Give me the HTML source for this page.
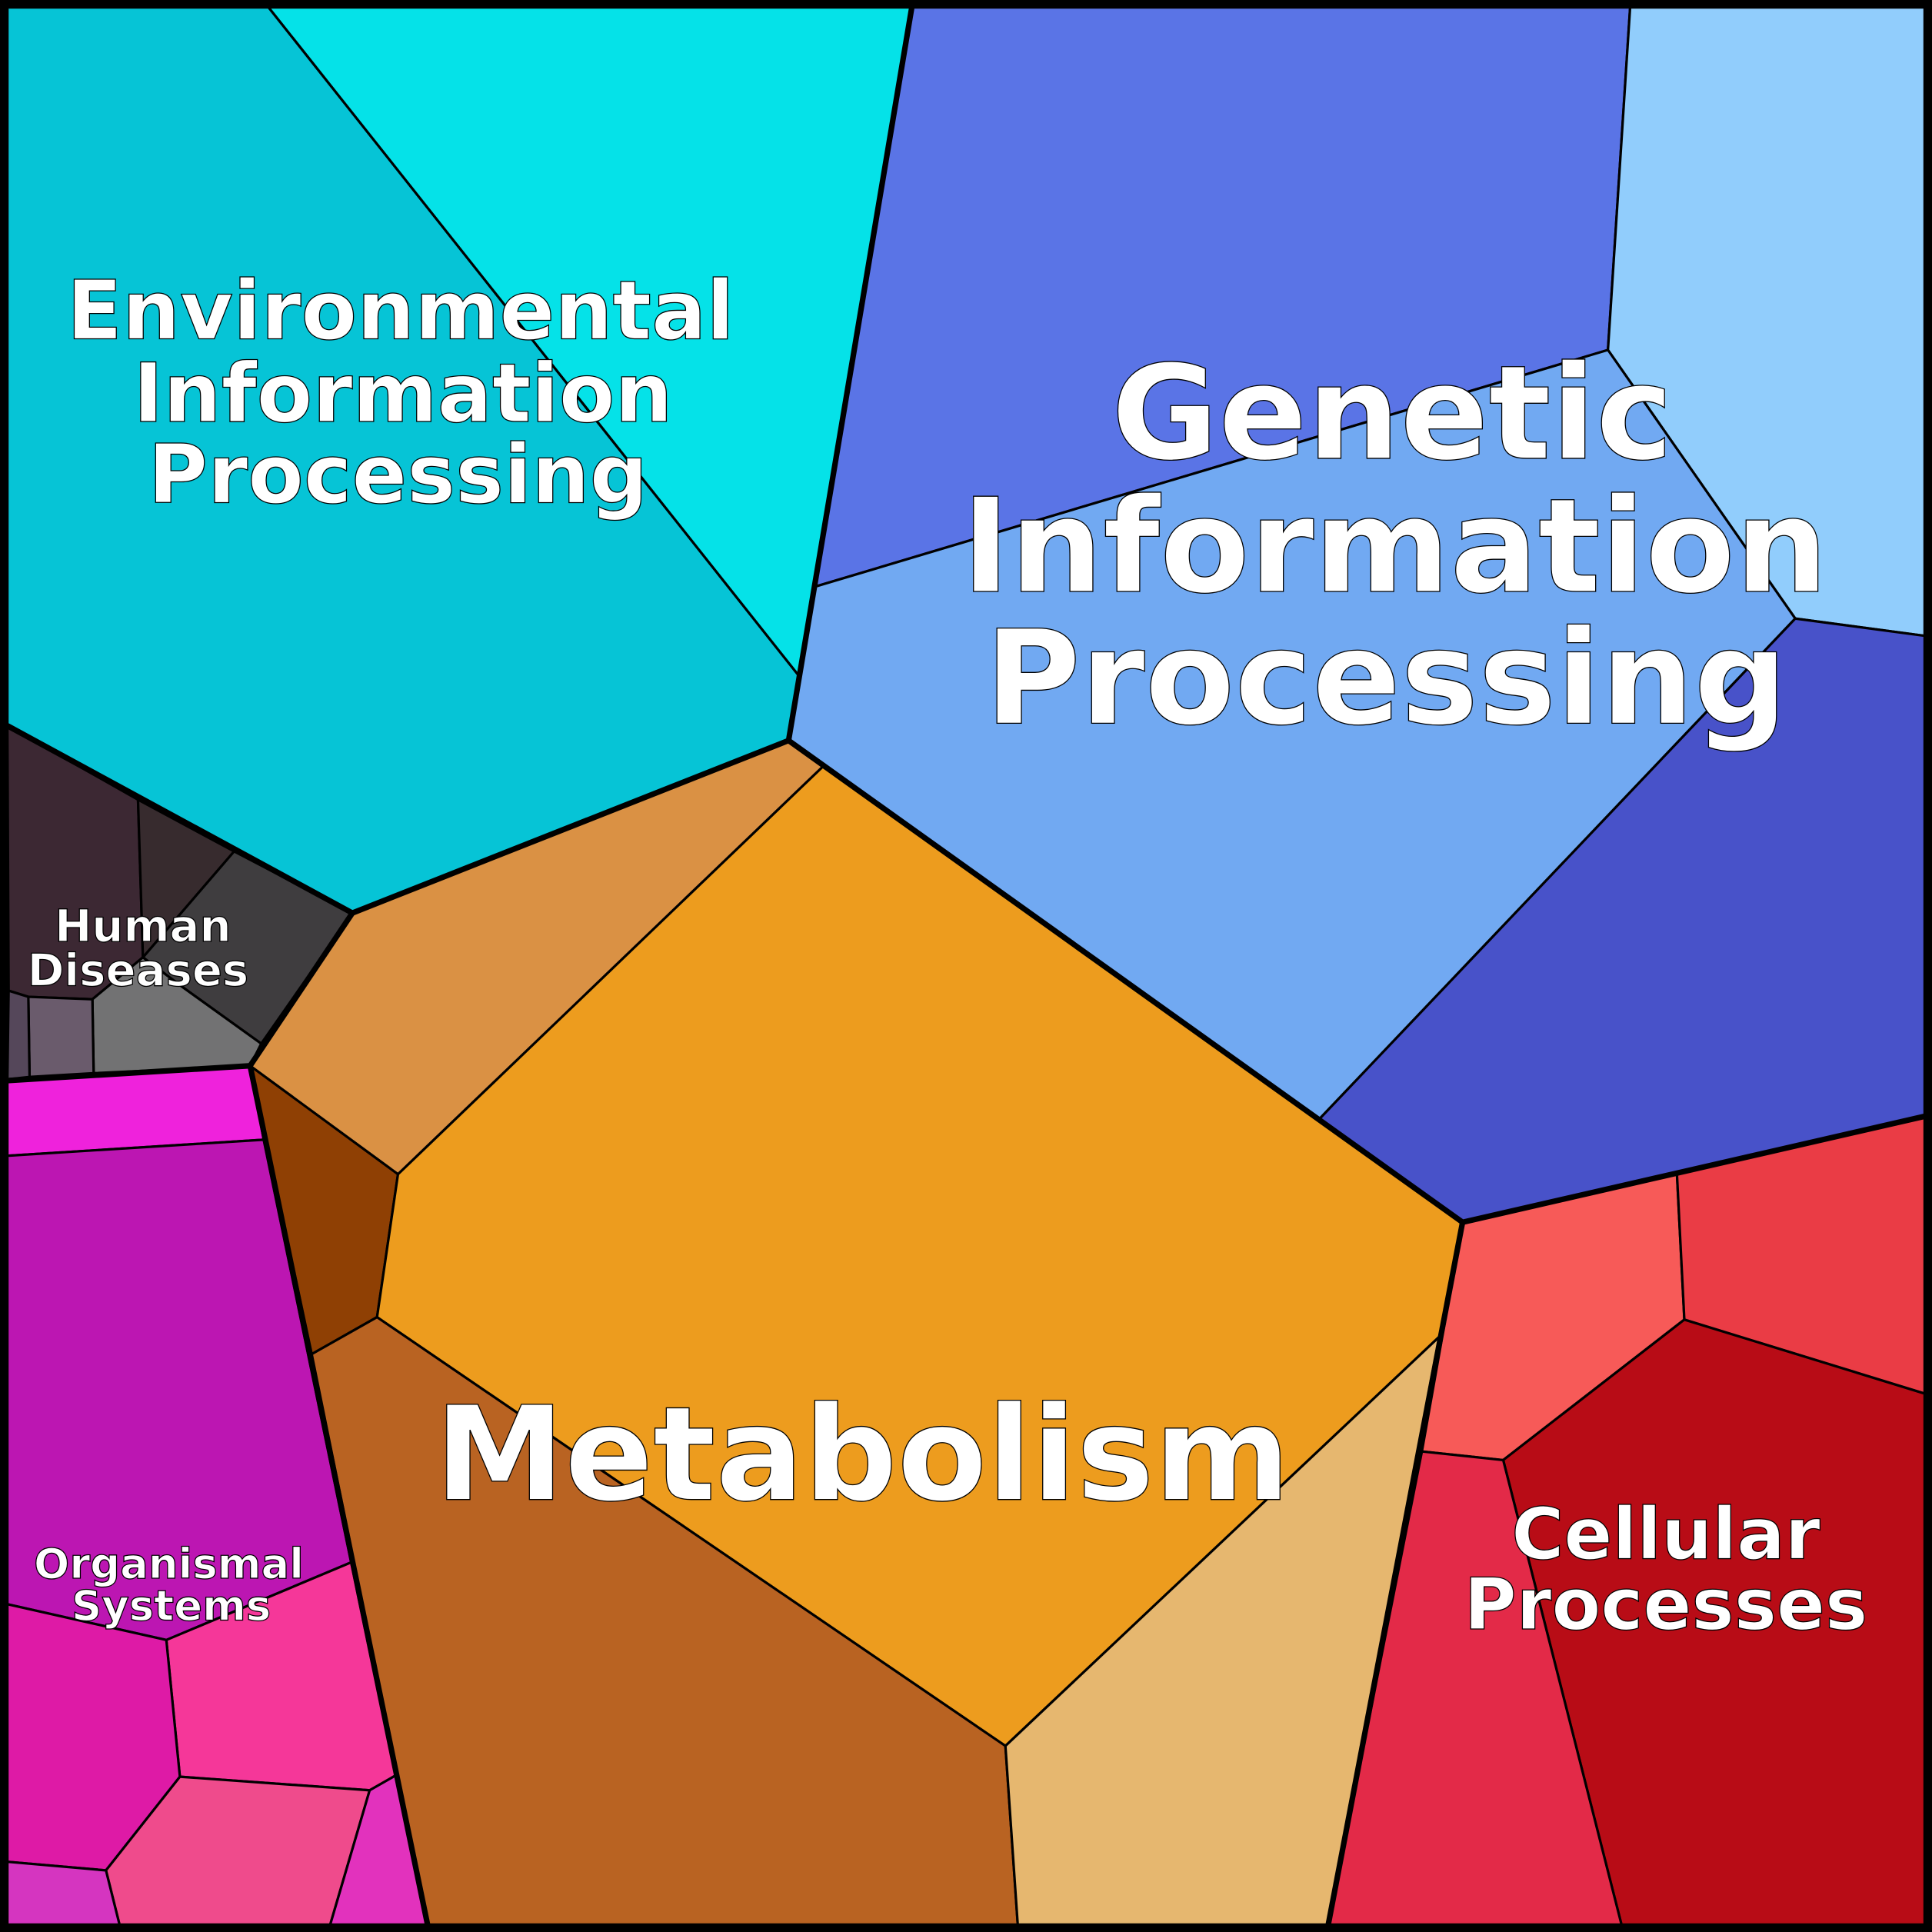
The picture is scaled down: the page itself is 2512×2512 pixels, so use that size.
<!DOCTYPE html>
<html><head><style>html,body{margin:0;padding:0;background:#000}svg{display:block}</style></head><body>
<svg xmlns="http://www.w3.org/2000/svg" width="2512" height="2512" viewBox="0 0 1568 1568">
<g stroke="#000" stroke-width="2" stroke-linejoin="round">
<polygon fill="#06c4d6" points="6,6 218,6 648,548 640,601 286,741 6,589"/>
<polygon fill="#05e2e8" points="218,6 740,6 648,548"/>
<polygon fill="#5a74e6" points="740,6 1323,6 1305,284 662,476"/>
<polygon fill="#91cdfc" points="1323,6 1562,6 1562,516 1457,502 1305,284"/>
<polygon fill="#71a9f2" points="662,476 1305,284 1457,502 1071,908 668,622 640,601"/>
<polygon fill="#4852c9" points="1457,502 1562,516 1562,906 1187,992 1071,908"/>
<polygon fill="#da9144" points="640,601 668,622 323,953 203,865 286,741"/>
<polygon fill="#8f4004" points="203,865 323,953 306,1069 253,1099"/>
<polygon fill="#ed9c1e" points="668,622 1187,992 1168,1085 816,1417 306,1069 323,953"/>
<polygon fill="#b96322" points="253,1099 306,1069 816,1417 826,1562 347,1562"/>
<polygon fill="#e6b76f" points="816,1417 1168,1085 1078,1562 826,1562"/>
<polygon fill="#f75a58" points="1187,992 1361,953 1367,1071 1220,1185 1154,1178"/>
<polygon fill="#ea3c45" points="1361,953 1562,906 1562,1131 1367,1071"/>
<polygon fill="#b80c16" points="1367,1071 1562,1131 1562,1562 1316,1562 1220,1185"/>
<polygon fill="#e32a48" points="1154,1178 1220,1185 1316,1562 1078,1562"/>
<polygon fill="#3c2833" points="6,589 112,649 116,777 75,811 23,809 7,804"/>
<polygon fill="#372b2e" points="112,649 190,691 116,777"/>
<polygon fill="#3f3d3f" points="190,691 286,741 212,847 148,801 116,777"/>
<polygon fill="#727273" points="75,811 116,777 148,801 212,847 203,865 76,871"/>
<polygon fill="#6a5b6c" points="23,809 75,811 76,871 24,874"/>
<polygon fill="#55475a" points="7,804 23,809 24,874 6,876"/>
<polygon fill="#ef22dc" points="6,877 203,865 214,925 6,938"/>
<polygon fill="#bc16b2" points="6,938 214,925 285,1268 135,1331 6,1302"/>
<polygon fill="#f53799" points="135,1331 285,1268 321,1441 300,1453 146,1442"/>
<polygon fill="#de1aa6" points="6,1302 135,1331 146,1442 86,1518 6,1511"/>
<polygon fill="#ef4b8c" points="146,1442 300,1453 268,1562 97,1562 86,1518"/>
<polygon fill="#e232bd" points="300,1453 321,1441 347,1562 268,1562"/>
<polygon fill="#d535c0" points="6,1511 86,1518 97,1562 6,1562"/>
</g>
<g stroke="#000" stroke-width="4.5" fill="none" stroke-linejoin="round">
<polyline points="6,589 286,741 640,601 740,6"/>
<polyline points="640,601 1187,992 1562,906"/>
<polyline points="1187,992 1078,1562"/>
<polyline points="286,741 203,865 347,1562"/>
<polyline points="6,877 203,865"/>
<rect x="3.5" y="3.5" width="1561" height="1561"/>
</g>
<g font-family="'DejaVu Sans','Liberation Sans',sans-serif" font-weight="bold" fill="#fff" stroke="#000" stroke-width="0.8" text-anchor="middle">
<text font-size="66" x="325" y="275">Environmental</text>
<text font-size="66" x="327" y="342">Information</text>
<text font-size="66" x="323" y="408">Processing</text>
<text font-size="106" x="1130" y="372">Genetic</text>
<text font-size="106" x="1132" y="480">Information</text>
<text font-size="106" x="1125" y="587">Processing</text>
<text font-size="106" x="700" y="1217">Metabolism</text>
<text font-size="58" x="1352" y="1265">Cellular</text>
<text font-size="58" x="1352" y="1322">Processes</text>
<text font-size="36" x="116" y="764">Human</text>
<text font-size="36" x="112" y="800">Diseases</text>
<text font-size="34" x="137" y="1281">Organismal</text>
<text font-size="34" x="139" y="1315">Systems</text>
</g>
</svg>
</body></html>
